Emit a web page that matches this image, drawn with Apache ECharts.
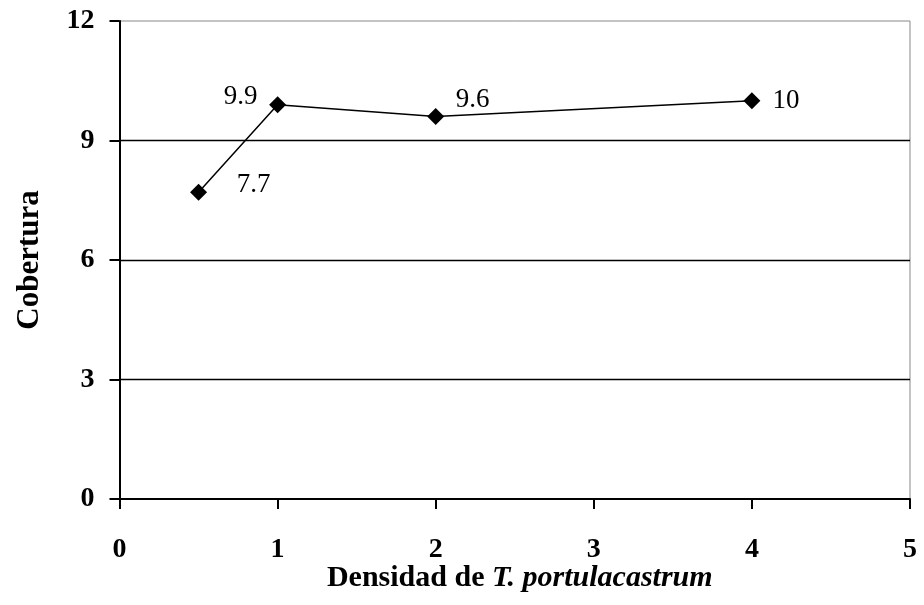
<!DOCTYPE html>
<html><head><meta charset="utf-8">
<script src="https://cdn.jsdelivr.net/npm/echarts@6/dist/echarts.min.js"></script>
<style>html,body{margin:0;padding:0;background:#fff}#c{width:924px;height:605px}</style>
</head><body><div id="c"></div>
<script>
const densidad = [0.5, 1, 2, 4];
const cobertura = [7.7, 9.9, 9.6, 10];
const xTicks = [0, 1, 2, 3, 4, 5];
const yTicks = [0, 3, 6, 9, 12];
const labelOffsets = [[55, -7], [-37, -8], [37, -17], [34, 0]];

const FONT = "'Liberation Serif','Times New Roman',serif";
const chart = echarts.init(document.getElementById('c'));
chart.setOption({
  animation: false,
  backgroundColor: '#fff',
  grid: { left: 119.5, right: 14, top: 21, bottom: 106, show: true, borderColor: '#888', borderWidth: 1 },
  xAxis: {
    type: 'value', min: xTicks[0], max: xTicks[xTicks.length - 1], interval: 1,
    axisLine: { lineStyle: { color: '#000', width: 2 } },
    axisTick: { show: true, length: 10, lineStyle: { color: '#000', width: 2 } },
    splitLine: { show: false },
    axisLabel: { fontFamily: FONT, fontSize: 28, fontWeight: 'bold', color: '#000', margin: 37 },
    name: '{b|Densidad de }{i|T. portulacastrum}',
    nameLocation: 'middle', nameGap: 64, nameMoveOverlap: false,
    nameTextStyle: {
      padding: [0, 0, 0, 10],
      rich: {
        b: { fontFamily: FONT, fontSize: 30, fontWeight: 'bold', color: '#000' },
        i: { fontFamily: FONT, fontSize: 30, fontWeight: 'bold', fontStyle: 'italic', color: '#000' }
      }
    }
  },
  yAxis: {
    type: 'value', min: yTicks[0], max: yTicks[yTicks.length - 1], interval: 3,
    axisLine: { show: true, lineStyle: { color: '#000', width: 2 } },
    axisTick: { show: true, length: 10, lineStyle: { color: '#000', width: 2 } },
    splitLine: { show: true, showMinLine: false, showMaxLine: false, lineStyle: { color: '#000', width: 1.3 } },
    axisLabel: { fontFamily: FONT, fontSize: 28, fontWeight: 'bold', color: '#000', margin: 25 },
    name: 'Cobertura', nameLocation: 'middle', nameGap: 74, nameMoveOverlap: false,
    nameTextStyle: { fontFamily: FONT, fontSize: 31, fontWeight: 'bold', color: '#000' }
  },
  series: [{
    type: 'line',
    data: densidad.map((x, i) => ({
      value: [x, cobertura[i]],
      label: { show: true, position: 'inside', offset: labelOffsets[i] }
    })),
    symbol: 'diamond', symbolSize: 17,
    lineStyle: { color: '#000', width: 1.5 },
    itemStyle: { color: '#000' },
    label: { fontFamily: FONT, fontSize: 27, color: '#000', formatter: p => String(p.value[1]) }
  }]
});
</script></body></html>
